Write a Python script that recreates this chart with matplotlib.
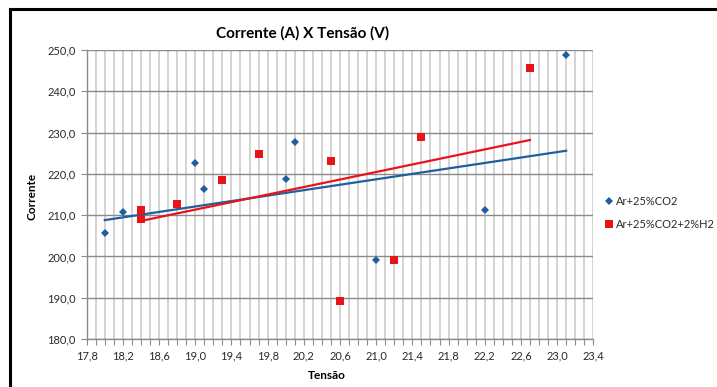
import matplotlib
matplotlib.use("Agg")
import matplotlib.pyplot as plt
import numpy as np
from matplotlib.lines import Line2D
from matplotlib.ticker import MultipleLocator, FixedLocator, FuncFormatter

# Measured points: voltage (V) and current (A) for each shielding gas
tensao_co2 = [18.0, 18.2, 19.0, 19.1, 20.0, 20.1, 21.0, 22.2, 23.1]
corrente_co2 = [205.7, 210.8, 222.6, 216.3, 218.8, 227.6, 199.2, 211.3, 248.9]

tensao_h2 = [18.4, 18.4, 18.8, 19.3, 19.7, 20.5, 20.6, 21.2, 21.5, 22.7]
corrente_h2 = [211.2, 209.1, 212.7, 218.5, 224.7, 223.2, 189.2, 199.2, 228.9, 245.7]

# Linear trend lines (end points)
trend_x_co2 = [18.0, 23.1]
trend_y_co2 = [208.8, 225.6]
trend_x_h2 = [18.4, 22.7]
trend_y_h2 = [208.6, 228.2]

labels = ["Ar+25%CO2", "Ar+25%CO2+2%H2"]
blue = "#1f5f9e"
red = "#e8141a"

plt.rcParams['font.family'] = ['Lato', 'DejaVu Sans']

W, H = 717, 387
L, R, T, B = 86.7, 593.3, 50, 339
fig = plt.figure(figsize=(W / 100, H / 100), dpi=100)
ax = fig.add_axes([L / W, 1 - B / H, (R - L) / W, (B - T) / H])

ax.set_xlim(17.8, 23.4)
ax.set_ylim(180, 250)

ax.xaxis.set_major_locator(FixedLocator(np.round(np.arange(17.8, 23.41, 0.4), 1)))
ax.xaxis.set_minor_locator(MultipleLocator(0.1))
ax.yaxis.set_major_locator(MultipleLocator(10))
fmt = FuncFormatter(lambda v, p: f"{v:.1f}".replace(".", ","))
ax.xaxis.set_major_formatter(fmt)
ax.yaxis.set_major_formatter(fmt)

ax.grid(True, axis='x', which='both', color='#c8c8c8', linewidth=1.1)
ax.grid(True, axis='y', which='major', color='#8a8a8a', linewidth=1.0)
ax.set_axisbelow(True)

for s in ['top', 'right']:
    ax.spines[s].set_visible(False)
for s in ['left', 'bottom']:
    ax.spines[s].set_color('#8a8a8a')
    ax.spines[s].set_linewidth(1.0)

ax.tick_params(axis='both', which='major', length=4, width=0.8, color='#8a8a8a',
               labelsize=8, labelcolor='#2a2a2a', pad=4)
ax.tick_params(axis='x', which='minor', length=4, width=0.8, color='#8a8a8a')

ax.plot(trend_x_co2, trend_y_co2, color=blue, linewidth=1.6, zorder=3)
ax.plot(trend_x_h2, trend_y_h2, color=red, linewidth=1.6, zorder=3)

ax.plot(tensao_co2, corrente_co2, linestyle='none', marker='D', markersize=4.2,
        color=blue, markeredgewidth=0, zorder=4)
ax.plot(tensao_h2, corrente_h2, linestyle='none', marker='s', markersize=6,
        color=red, markeredgewidth=0, zorder=4)

ax.set_title("Corrente (A) X Tensão (V)", fontsize=11, fontweight='bold',
             x=(303 - L) / (R - L), y=1.0, pad=9)
ax.set_xlabel("Tensão", fontsize=8.5, fontweight='bold')
ax.set_ylabel("Corrente", fontsize=8.5, fontweight='bold')
ax.xaxis.set_label_coords((327 - L) / (R - L), -(370 - B) / (B - T))
ax.yaxis.set_label_coords(-(L - 38) / (R - L), (B - 196) / (B - T))

handles = [
    Line2D([], [], linestyle='none', marker='D', markersize=4.2, color=blue, markeredgewidth=0),
    Line2D([], [], linestyle='none', marker='s', markersize=6, color=red, markeredgewidth=0),
]
fig.legend(handles, labels, loc='upper left', bbox_to_anchor=(606 / W, 1 - 196 / H),
           frameon=False, fontsize=8, handlelength=0.6, handletextpad=0.3,
           labelspacing=1.05, borderpad=0, borderaxespad=0, labelcolor='#2a2a2a')

# Chart frame (left and top edges)
fig.add_artist(Line2D([10 / W, 10 / W], [0, 1 - 9 / H], transform=fig.transFigure,
                      color='black', linewidth=2.2))
fig.add_artist(Line2D([10 / W, 1], [1 - 9 / H, 1 - 9 / H], transform=fig.transFigure,
                      color='black', linewidth=2.2))

fig.savefig("out.png", dpi=100)
